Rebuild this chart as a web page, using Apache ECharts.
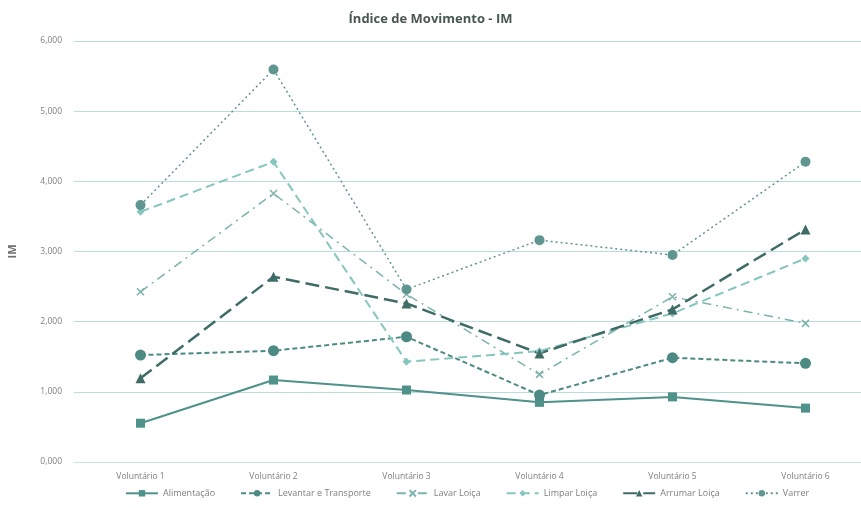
<!DOCTYPE html>
<html>
<head>
<meta charset="utf-8">
<script src="https://cdn.jsdelivr.net/npm/echarts@6/dist/echarts.min.js"></script>
<style>
  html, body { margin: 0; padding: 0; background: #fff; }
  #chart { width: 861px; height: 508px; }
</style>
</head>
<body>
<div id="chart"></div>
<script>
const categorias = ['Voluntário 1', 'Voluntário 2', 'Voluntário 3', 'Voluntário 4', 'Voluntário 5', 'Voluntário 6']
const yTicks = [0, 1, 2, 3, 4, 5, 6]

const alimentacao = [0.553, 1.168, 1.026, 0.850, 0.928, 0.768]
const levantar = [1.524, 1.586, 1.785, 0.954, 1.486, 1.406]
const lavar = [2.426, 3.827, 2.390, 1.249, 2.355, 1.976]
const limpar = [3.566, 4.278, 1.429, 1.580, 2.118, 2.901]
const arrumar = [1.192, 2.640, 2.260, 1.548, 2.175, 3.314]
const varrer = [3.661, 5.594, 2.460, 3.162, 2.949, 4.278]

const fmt = v => v.toFixed(3).replace('.', ',')

const serie = (name, data, color, type, symbol, size, width) => ({
  name: name,
  type: 'line',
  data: data,
  symbol: symbol,
  symbolSize: size,
  lineStyle: { color: color, width: width, type: type },
  itemStyle: { color: color },
  emphasis: { disabled: true }
})

const option = {
  backgroundColor: '#fff',
  animation: false,
  title: {
    text: 'Índice de Movimento - IM',
    left: 'center',
    top: 8,
    textStyle: { fontFamily: 'Open Sans', fontSize: 13, fontWeight: 'bold', color: '#4a5654' }
  },
  legend: {
    bottom: 4,
    left: 120,
    itemWidth: 32,
    itemHeight: 8,
    itemGap: 25,
    textStyle: { fontFamily: 'Open Sans', fontSize: 9, color: '#7f7f7f' }
  },
  grid: { left: 74, width: 798, top: 41, bottom: 46, outerBoundsMode: 'none', containLabel: false },
  xAxis: {
    type: 'category',
    data: categorias,
    axisLine: { lineStyle: { color: '#c9e3e0', width: 1 } },
    axisTick: { show: false },
    axisLabel: { fontFamily: 'Open Sans', fontSize: 8.5, color: '#7f7f7f', margin: 10 }
  },
  yAxis: {
    type: 'value',
    min: 0,
    max: 6,
    interval: 1,
    name: 'IM',
    nameLocation: 'middle',
    nameGap: 56,
    nameRotate: 90,
    nameTextStyle: { fontFamily: 'Open Sans', fontSize: 11, fontWeight: 'bold', color: '#6f6f6f' },
    axisLabel: {
      fontFamily: 'Open Sans', fontSize: 8.5, color: '#7f7f7f', margin: 12,
      formatter: v => yTicks.includes(v) ? fmt(v) : ''
    },
    splitLine: { lineStyle: { color: '#b9ddd8', width: 1 } }
  },
  series: [
    serie('Alimentação', alimentacao, '#4f918b', 'solid', 'rect', 9, 2),
    serie('Levantar e Transporte', levantar, '#4e8a84', [5, 3], 'circle', 11, 2),
    serie('Lavar Loiça', lavar, '#7db3ad', [9, 5, 2, 5], 'emptyCircle', 0, 1.5),
    serie('Limpar Loiça', limpar, '#86c6be', [9, 5], 'diamond', 8, 2),
    serie('Arrumar Loiça', arrumar, '#406c68', [14, 6], 'triangle', 10, 2.5),
    serie('Varrer', varrer, '#5f9691', [2, 3], 'circle', 10, 1.5)
  ]
}
// Lavar Loiça uses an x-shaped marker
option.series[2].symbol = 'path://M0,0 L10,10 M10,0 L0,10'
option.series[2].symbolSize = 7
option.series[2].itemStyle = { color: 'none', borderColor: '#7db3ad', borderWidth: 1.5 }

const chart = echarts.init(document.getElementById('chart'))
chart.setOption(option)
</script>
</body>
</html>
